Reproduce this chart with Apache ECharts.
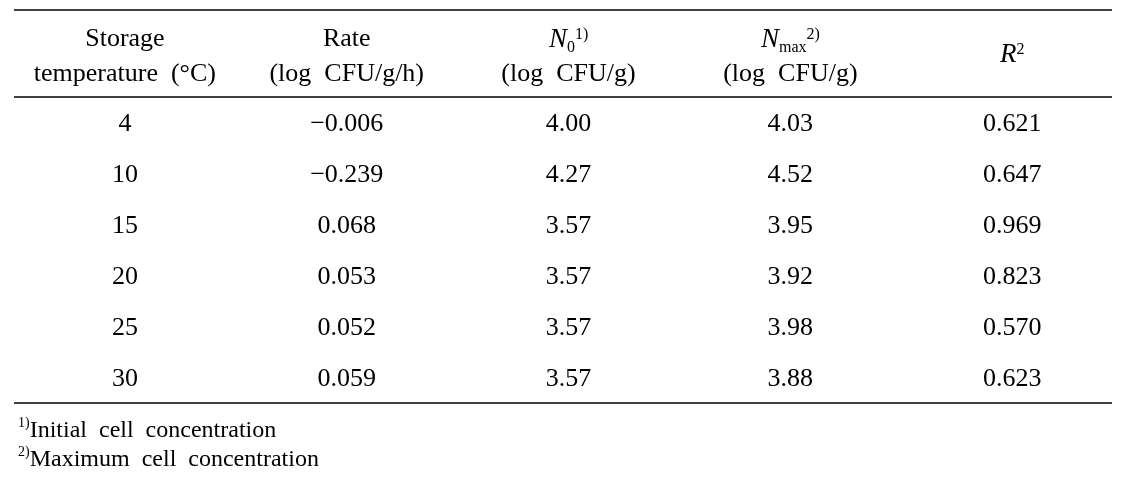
<!DOCTYPE html>
<html>
<head>
<meta charset="utf-8">
<script src="https://cdn.jsdelivr.net/npm/echarts@6/dist/echarts.min.js"></script>
<style>
  html, body { margin: 0; padding: 0; background: #fff; }
  #main { width: 1128px; height: 496px; }
</style>
</head>
<body>
<div id="main"></div>
<script>
// table values
const temps = [4, 10, 15, 20, 25, 30];
const rates = [-0.006, -0.239, 0.068, 0.053, 0.052, 0.059];
const n0 = [4.00, 4.27, 3.57, 3.57, 3.57, 3.57];
const nmax = [4.03, 4.52, 3.95, 3.92, 3.98, 3.88];
const r2 = [0.621, 0.647, 0.969, 0.823, 0.570, 0.623];
const decimals = [0, 3, 2, 2, 3];

// header texts (rich markup for italics / sub / superscripts)
const headerTop = ['Storage', 'Rate', '{it|N}{sub|0}{sup|1)}', '{it|N}{sub|max}{sup|2)}'];
const headerBottom = ['temperature  (°C)', '(log  CFU/g/h)', '(log  CFU/g)', '(log  CFU/g)'];
const headerSingle = '{it|R}{sup|2}';
const footnotes = ['{sup|1)}Initial  cell  concentration', '{sup|2)}Maximum  cell  concentration'];

const FONT = 'Liberation Serif';
const INK = '#000';
const fmt = (v, d) => v.toFixed(d).replace('-', '\u2212');

let columns = [temps, rates, n0, nmax, r2];
let cells = [];
columns.forEach(function (col, c) {
  col.forEach(function (v, r) {
    cells.push([c, r, fmt(v, decimals[c])]);
  });
});

let headRich = {
  it: { fontFamily: FONT, fontStyle: 'italic', fontSize: 27, color: INK, lineHeight: 32, verticalAlign: 'middle' },
  sub: { fontFamily: FONT, fontSize: 16, color: INK, lineHeight: 16, verticalAlign: 'bottom' },
  sup: { fontFamily: FONT, fontSize: 16, color: INK, lineHeight: 18, verticalAlign: 'top', padding: [3, 0, 0, 0] }
};
let headers = [];
headerTop.forEach(function (t, c) { headers.push({ value: [c, -1.62], label: { formatter: t } }); });
headerBottom.forEach(function (t, c) { headers.push({ value: [c, -0.95], label: { formatter: t } }); });
headers.push({ value: [4, -1.32], label: { formatter: headerSingle } });

let chart = echarts.init(document.getElementById('main'));
chart.setOption({
  animation: false,
  backgroundColor: '#fff',
  title: {
    left: 13,
    top: 411,
    text: footnotes.join('\n'),
    textStyle: {
      fontFamily: FONT, fontSize: 24, fontWeight: 'normal', color: INK, lineHeight: 29,
      rich: {
        sup: { fontFamily: FONT, fontSize: 14, color: INK, lineHeight: 14, verticalAlign: 'top' }
      }
    }
  },
  grid: { left: 14, right: 16, top: 10, bottom: 93 },
  xAxis: { type: 'value', min: -0.5, max: 4.45, show: false },
  yAxis: { type: 'value', min: -2.2, max: 5.5, inverse: true, show: false },
  series: [
    {
      type: 'scatter',
      data: cells,
      symbolSize: 1,
      itemStyle: { color: 'transparent', opacity: 1 },
      silent: true,
      clip: false,
      label: {
        show: true,
        position: 'inside',
        offset: [0, 2],
        formatter: p => p.value[2],
        fontFamily: FONT,
        fontSize: 26,
        color: INK
      },
      markLine: {
        silent: true,
        symbol: ['none', 'none'],
        label: { show: false },
        lineStyle: { color: '#000', width: 1.6, type: 'solid', opacity: 1 },
        data: [{ yAxis: -2.2 }, { yAxis: -0.5 }, { yAxis: 5.5 }]
      }
    },
    {
      type: 'scatter',
      data: headers,
      symbolSize: 1,
      itemStyle: { color: 'transparent', opacity: 1 },
      silent: true,
      clip: false,
      label: {
        show: true,
        position: 'inside',
        fontFamily: FONT,
        fontSize: 26,
        lineHeight: 32,
        color: INK,
        rich: headRich
      }
    }
  ]
});
window.addEventListener('resize', function () {
  chart.resize();
});
</script>
</body>
</html>
